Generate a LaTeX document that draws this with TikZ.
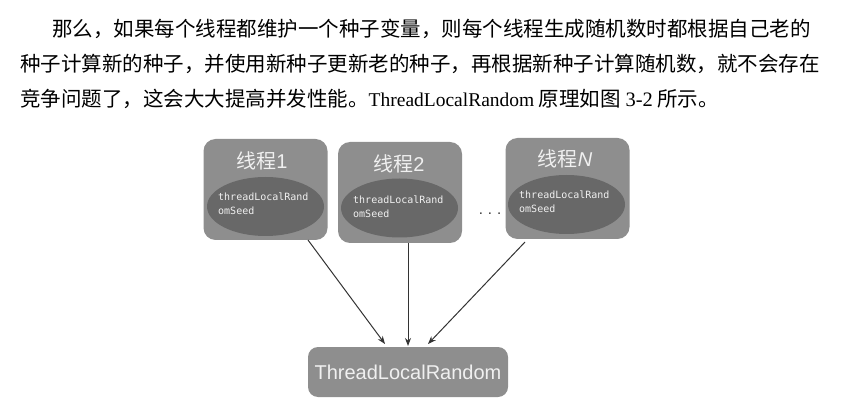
\documentclass[tikz,border=0pt]{standalone}
\usepackage{fontspec}
\setmainfont{Liberation Serif}
\setsansfont{Liberation Sans}
\setmonofont{DejaVu Sans Mono}
\newfontfamily\cjk{Noto Sans CJK SC}
\usetikzlibrary{arrows.meta}
\definecolor{boxgray}{HTML}{8E8E8E}
\definecolor{ellgray}{HTML}{686868}
\definecolor{txtlight}{HTML}{F0F0F0}
\definecolor{arrowc}{HTML}{333333}
\tikzset{
  thread/.style={draw=none, fill=boxgray, rounded corners=12pt, minimum width=124pt, minimum height=101pt, inner sep=0pt},
  seed/.style={draw=none, fill=ellgray, ellipse, minimum width=117pt, minimum height=59pt},
  ttl/.style={text=txtlight, font=\fontsize{20}{22}\selectfont\sffamily, inner sep=0pt},
  seedtxt/.style={text=txtlight, font=\fontsize{10}{13.5}\selectfont\ttfamily, align=left, inner sep=0pt, anchor=north west},
  para/.style={anchor=base west, inner sep=0pt, font=\fontsize{20.5}{24}\selectfont\cjk},
  conn/.style={draw=arrowc, line width=1pt, -{Stealth[length=8pt,width=6pt]}},
  rbox/.style={draw=none, fill=boxgray, rounded corners=10pt, minimum width=200pt, minimum height=50pt, inner sep=0pt, text=txtlight, font=\fontsize{20}{22}\selectfont\sffamily}
}
\usetikzlibrary{shapes.geometric}
\begin{document}
\begin{tikzpicture}[x=1pt,y=-1pt]
\useasboundingbox (0,0) rectangle (842,411);
% paragraph
\node[para] (l1) at (52,37) {那么，如果每个线程都维护一个种子变量，则每个线程生成随机数时都根据自己老的};
\node[para] (l2) at (20,72) {种子计算新的种子，并使用新种子更新老的种子，再根据新种子计算随机数，就不会存在};
\node[para] (l3) at (20,107) {竞争问题了，这会大大提高并发性能。{\rmfamily\fontsize{19.5}{24}\selectfont ThreadLocalRandom} 原理如图 {\rmfamily 3-2} 所示。};
% thread boxes
\node[thread] (t1) at (265.5,189.5) {};
\node[thread] (t2) at (400,192.5) {};
\node[thread] (tn) at (567.5,188.5) {};
\node[seed] (e1) at (265.5,206.5) {};
\node[seed] (e2) at (399.5,208) {};
\node[seed] (en) at (566.5,204.5) {};
\node[ttl] (h1) at (262,161) {{\cjk 线程}1};
\node[ttl] (h2) at (399,164) {{\cjk 线程}2};
\node[ttl] (hn) at (565,159) {{\cjk 线程}\textit{N}};
\node[seedtxt] (s1) at (218,193) {threadLocalRand\\omSeed};
\node[seedtxt] (s2) at (353,196) {threadLocalRand\\omSeed};
\node[seedtxt] (sn) at (519,191) {threadLocalRand\\omSeed};
\node[inner sep=0pt, font=\fontsize{15}{15}\selectfont\sffamily, text=arrowc] (dots) at (490,214) {.\hspace{5pt}.\hspace{5pt}.};
% result box
\node[rbox] (r) at (408,372) {ThreadLocalRandom};
% connectors
\coordinate (a1) at (308,240);
\coordinate (a2) at (408,243);
\coordinate (a3) at (525,242);
\draw[conn] (a1) -- (385,344);
\draw[conn] (a2) -- (408,346);
\draw[conn] (a3) -- (428,344);
\end{tikzpicture}
\end{document}
